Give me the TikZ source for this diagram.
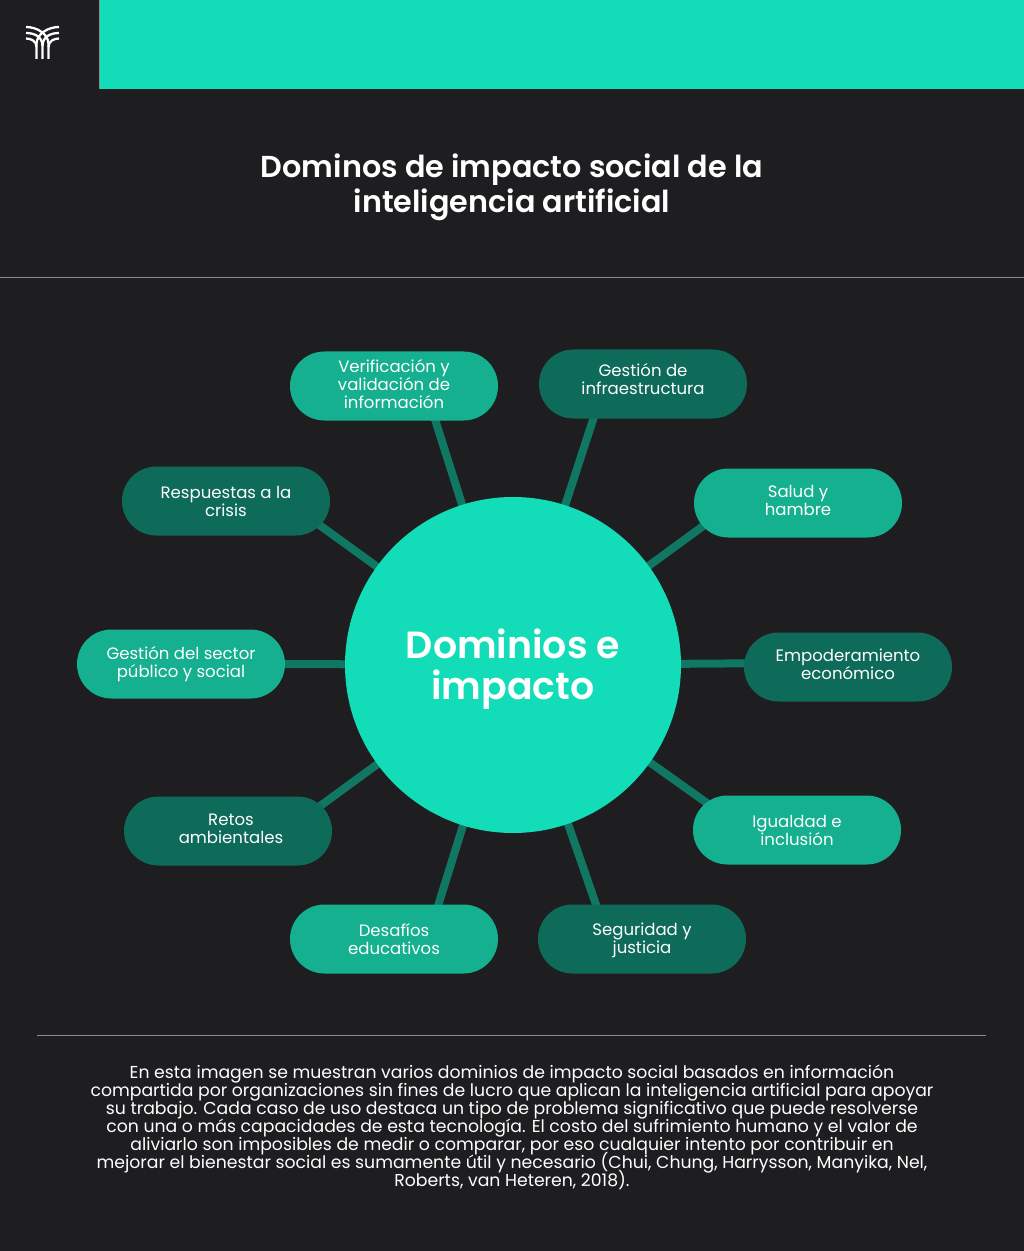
\documentclass[tikz,border=0pt]{standalone}
\usepackage{fontspec}
\setmainfont{Poppins}
\newfontfamily\semibold{Poppins SemiBold}
\usetikzlibrary{backgrounds}
\definecolor{paper}{HTML}{1E1D20}
\definecolor{mint}{HTML}{12DDB8}
\definecolor{pilllight}{HTML}{14B08F}
\definecolor{pilldark}{HTML}{0E6B5A}
\definecolor{spokecol}{HTML}{0F7762}
\definecolor{rulecol}{HTML}{8C8C8C}
\newcommand{\liftup}[1]{\rule[-#1]{0pt}{0pt}}
\begin{document}
\begin{tikzpicture}[x=0.75pt, y=-0.75pt,
execute at begin node={\lineskiplimit=-20pt\relax},
pill/.style={minimum width=156pt, minimum height=51.75pt, inner sep=0pt, rounded corners=25.8pt,
    align=center, text=white, font=\fontsize{12.4}{13.5}\selectfont},
light/.style={pill, fill=pilllight},
dark/.style={pill, fill=pilldark},
spoke/.style={draw=spokecol, line width=6pt, shorten >=-12pt},
rulerline/.style={draw=rulecol, line width=0.75pt},
logo/.style={draw=white, line width=1.7pt}]
\path[use as bounding box] (0,0) rectangle (1023.6,1251);
\node[circle, fill=mint, minimum size=252pt, inner sep=0pt] (hub) at (513,665) {};
\node[align=center, text=white, font=\fontsize{28.4}{31}\selectfont\semibold] (hubtext) at (513,669) {Dominios e\\impacto};
\node[light] (verif) at (394,386) {Verificación y\\validación de\\información\liftup{3pt}};
\node[dark] (infra) at (643,384) {Gestión de\\infraestructura\liftup{7.5pt}};
\node[dark] (crisis) at (226,501) {Respuestas a la\\crisis};
\node[light] (salud) at (798,503) {Salud y\\hambre\liftup{4.5pt}};
\node[light] (sector) at (181,664) {Gestión del sector\\público y social};
\node[dark] (empod) at (848,667) {Empoderamiento\\económico\liftup{4.5pt}};
\node[dark] (retos) at (228,831) {\hspace*{4.5pt}Retos\\\hspace*{4.5pt}ambientales\liftup{3pt}};
\node[light] (igual) at (797,830) {Igualdad e\\inclusión};
\node[light] (desaf) at (394,939) {Desafíos\\educativos};
\node[dark] (segur) at (642,939) {\rule{0pt}{12pt}Seguridad y\\justicia};
\begin{scope}[on background layer]
\fill[paper] (-2,-2) rectangle (1026,1253);
\foreach \pillname/\ang in {verif/-40, infra/-145, crisis/-17, salud/196, sector/0,
    empod/178, retos/18, igual/161, desaf/38, segur/143}
    \draw[spoke] (hub.center) -- (\pillname.\ang);
\end{scope}
\fill[mint] (100,-2) rectangle (1026,89);
\draw[rulerline] (99.5,-2) -- (99.5,89);
\draw[rulerline] (-2,278) -- (1026,278);
\draw[rulerline] (37,1035) -- (986,1035);
\draw[logo] (26,27) .. controls (37,27) and (48.5,34) .. (48.5,44) -- (48.5,59);
\draw[logo] (59,27) .. controls (48,27) and (36.5,34) .. (36.5,44) -- (36.5,59);
\draw[logo] (26,33) .. controls (35,33) and (42.5,37) .. (42.5,46) -- (42.5,59);
\draw[logo] (59,33) .. controls (50,33) and (42.5,37) .. (42.5,46);
\draw[logo] (26,38.5) .. controls (31,38.5) and (36.5,41) .. (36.5,47);
\draw[logo] (59,38.5) .. controls (54,38.5) and (48.5,41) .. (48.5,47);
\node[align=center, text=white, font=\fontsize{22.7}{26}\selectfont\semibold] (title) at (512,187)
    {Dominos de impacto social de la\\inteligencia artificial};
\node[align=center, text=white, font=\fontsize{12.95}{13.5}\selectfont] (body) at (512,1127)
    {En esta imagen se muestran varios dominios de impacto social basados en información\\
    compartida por organizaciones sin fines de lucro que aplican la inteligencia artificial para apoyar\\
    su trabajo. Cada caso de uso destaca un tipo de problema significativo que puede resolverse\\
    con una o más capacidades de esta tecnología. El costo del sufrimiento humano y el valor de\\
    aliviarlo son imposibles de medir o comparar, por eso cualquier intento por contribuir en\\
    mejorar el bienestar social es sumamente útil y necesario (Chui, Chung, Harrysson, Manyika, Nel,\\
    Roberts, van Heteren, 2018).};
\end{tikzpicture}
\end{document}
